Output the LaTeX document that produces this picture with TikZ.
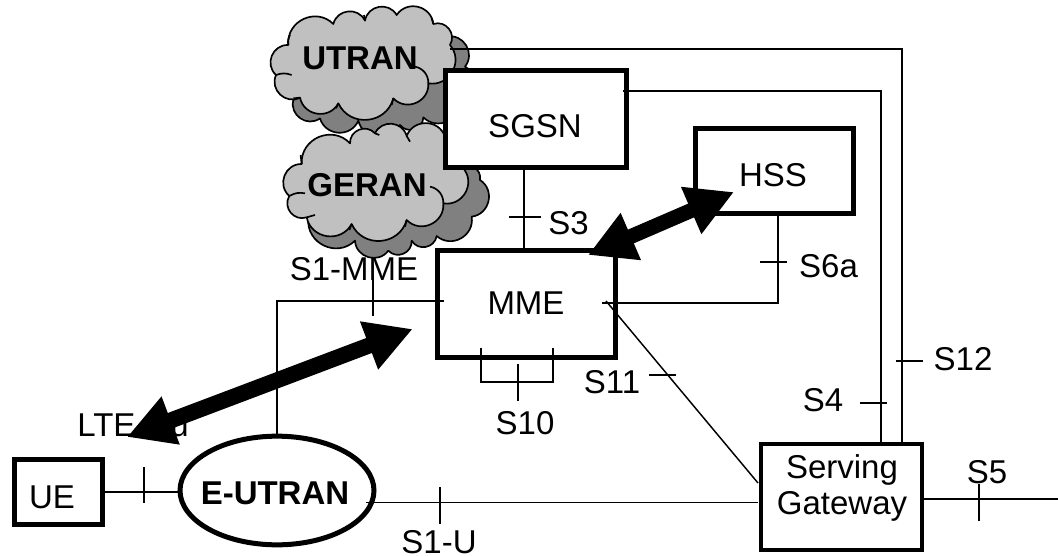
\documentclass[tikz,border=0pt]{standalone}
\usepackage{fontspec}
\setmainfont{Liberation Sans}
\usetikzlibrary{arrows.meta,shapes.geometric}
\tikzset{
  x=0.75pt,y=-0.75pt,
  lab/.style={inner sep=0pt,text height=17.7pt,text depth=0pt,font=\fontsize{24.75}{27.4}\selectfont},
  blab/.style={lab,font=\fontsize{24.75}{27.4}\selectfont\bfseries},
  box/.style={draw,line width=3.75pt,fill=white,inner sep=0pt},
  wire/.style={draw,line width=1.25pt},
  biarrow/.style={line width=12pt,{Triangle[length=35pt,width=36pt]}-{Triangle[length=35pt,width=36pt]}},
  biarrowsmall/.style={line width=11.2pt,{Triangle[length=35pt,width=36pt]}-{Triangle[length=35pt,width=36pt]}},
  cloudfront/.style={draw,line width=1.25pt,fill=cloudlight,line join=round},
  cloudback/.style={draw,line width=1.25pt,fill=clouddark,line join=round},
  bump/.style={bend left=70,looseness=1.25}
}
\definecolor{cloudlight}{HTML}{C0C0C0}
\definecolor{clouddark}{HTML}{808080}
\begin{document}
\begin{tikzpicture}
\useasboundingbox (0,0) rectangle (1058,556);
% wires running behind the boxes
\coordinate (utranend) at (450,49);
\coordinate (sgsnend) at (623,91);
% back clouds
\begin{scope}[shift={(260,0)},x=0.25pt,y=-0.25pt]
\path[cloudback] (560,110) to[bump] (615,200) to[bump] (600,300) to[bump] (490,352) to[bump] (420,375) to[bump] (295,362) to[bump] (180,355) to[bump] (100,300) -- (300,200) -- cycle;
\path[cloudfront] (85,135) to[bump] (220,72) to[bump] (315,62) to[bump] (410,45) to[bump] (520,72) to[bump] (570,135) to[bump] (505,250) to[bump] (400,295) to[bump] (235,310) to[bump] (120,293) to[bump] (48,225) to[bump] (85,135) -- cycle;
\draw[line width=1.25pt] (465,200) to[bend left=40] (505,250)
  (85,135) to[bend left=20] (90,105) (48,225) to[bend left=20] (95,225)
  (120,293) -- (100,295) (235,310) -- (228,325) (400,295) -- (395,315)
  (315,62) -- (312,45) (520,72) -- (515,55);
\path[cloudback] (600,505) to[bump] (660,540) to[bump] (635,650) to[bump] (530,708) to[bump] (455,722) to[bump] (385,752) to[bump] (285,722) to[bump] (145,655) -- (300,500) -- cycle;
\path[cloudfront] (125,492) to[bump] (270,430) to[bump] (345,400) to[bump] (440,408) to[bump] (555,410) to[bump] (610,505) to[bump] (550,610) to[bump] (440,660) to[bump] (275,672) to[bump] (140,652) to[bump] (88,588) to[bump] (125,492) -- cycle;
\draw[line width=1.25pt] (510,560) to[bend left=40] (550,610)
  (88,588) to[bend left=20] (135,580) (125,492) -- (122,465)
  (140,652) -- (165,645) (275,672) -- (268,690) (440,660) -- (435,680)
  (345,400) -- (358,405) (440,408) -- (450,425);
\end{scope}
% boxes
\node[box,minimum width=136pt,minimum height=73pt] (sgsn) at (536,119) {};
\node[box,minimum width=119pt,minimum height=64pt] (hss) at (774.5,171) {};
\node[box,minimum width=133.5pt,minimum height=80.5pt] (mme) at (526.75,304) {};
\node[draw,line width=3pt,fill=white,inner sep=0pt,minimum width=120.8pt,minimum height=80pt] (sgw) at (841.5,497) {};
\node[box,minimum width=66pt,minimum height=48.5pt] (ue) at (58.5,492) {};
\node[draw,ellipse,line width=3.75pt,fill=white,inner sep=0pt,minimum width=145.5pt,minimum height=81.5pt] (eutran) at (277,490.5) {};
% connectors
\coordinate (s4top) at (881,91);
\coordinate (s12top) at (902,49);
\coordinate (s6start) at (602,303);
\coordinate (s11start) at (606,301);
\coordinate (s11end) at (758,483);
\coordinate (s1mmeend) at (444,301);
\coordinate (s1uend) at (758,502.5);
\coordinate (s1ustart) at (366,502.5);
\coordinate (s5end) at (1058,499);
\draw[wire] (sgsnend) -- (s4top) -- (s4top |- sgw.north);
\draw[wire] (utranend) -- (s12top) -- (s12top |- sgw.north);
\draw[wire] (sgsn.south -| 524,0) -- (mme.north -| 524,0);
\draw[wire] (s6start) -| (hss.south -| 778,0);
\draw[wire,line width=1.1pt] (s11start) -- (s11end);
\draw[wire] (eutran.north) |- (s1mmeend);
\draw[wire] (ue.east |- 0,491.7) -- (eutran.west |- 0,491.7);
\draw[wire] (s1ustart) -- (s1uend);
\draw[wire] (sgw.east |- s5end) -- (s5end);
\draw[wire] (481,348) |- (553,382) -- (553,348);
% ticks
\coordinate (t1a) at (144,467); \coordinate (t1b) at (144,503);
\coordinate (t2a) at (440,487); \coordinate (t2b) at (440,524);
\coordinate (t3a) at (373,277); \coordinate (t3b) at (373,316);
\coordinate (t4a) at (509,217); \coordinate (t4b) at (541,217);
\coordinate (t5a) at (760,262); \coordinate (t5b) at (787,262);
\coordinate (t6a) at (649,375); \coordinate (t6b) at (676,375);
\coordinate (t7a) at (860,403); \coordinate (t7b) at (887,403);
\coordinate (t8a) at (896,361); \coordinate (t8b) at (923,361);
\coordinate (t9a) at (979,484); \coordinate (t9b) at (979,521);
\coordinate (t10a) at (518,364); \coordinate (t10b) at (518,401);
\foreach \n in {1,...,10} \draw[wire] (t\n a) -- (t\n b);
% labels
\node[blab] (lutran) at (360,58) {UTRAN};
\node[blab] (lgeran) at (367,185) {GERAN};
\node[blab] (leutran) at (275,493) {E-UTRAN};
\node[lab] (lsgsn) at (535,126) {SGSN};
\node[lab] (lhss) at (773,175) {HSS};
\node[lab] (lmme) at (526,303) {MME};
\node[lab] (lue) at (52,497) {UE};
\node[inner sep=0pt,align=center,font=\fontsize{24.75}{27.4}\selectfont] (lsgw) at (842,488) {Serving\\Gateway};
\node[lab] (ls3) at (568.5,223) {S3};
\node[lab] (ls6a) at (828.5,266) {S6a};
\node[lab] (ls11) at (612,382) {S11};
\node[lab] (ls4) at (823,400) {S4};
\node[lab] (ls12) at (963,359) {S12};
\node[lab] (ls5) at (987,472) {S5};
\node[lab] (ls10) at (525,423) {S10};
\node[lab] (ls1u) at (439,541.5) {S1-U};
\node[lab] (ls1mme) at (354,269) {S1-MME};
\node[lab] (llte) at (133,425) {LTE-Uu};
% thick arrows
\coordinate (a1) at (127,437); \coordinate (a2) at (412.7,329);
\coordinate (a3) at (588,255); \coordinate (a4) at (734,192);
\draw[biarrow] (a1) -- (a2);
\draw[biarrowsmall] (a3) -- (a4);
\end{tikzpicture}
\end{document}
